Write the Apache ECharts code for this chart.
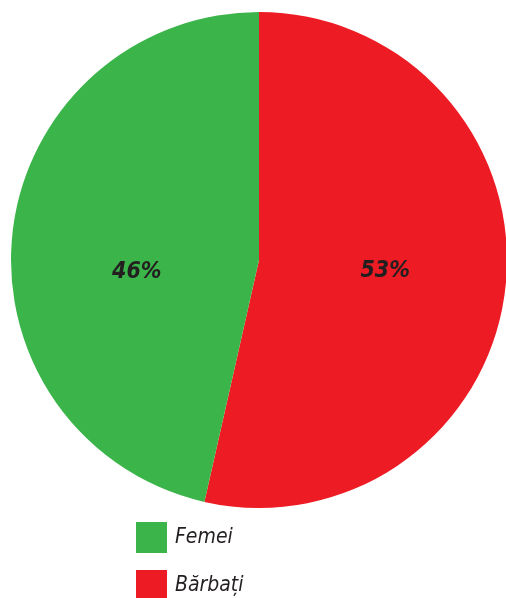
<!DOCTYPE html>
<html>
<head>
<meta charset="utf-8">
<style>
  html, body { margin: 0; padding: 0; background: #ffffff; }
  #chart { width: 506px; height: 598px; }
</style>
<script src="https://cdn.jsdelivr.net/npm/echarts@6/dist/echarts.min.js"></script>
</head>
<body>
<div id="chart"></div>
<script>
// Share of respondents by gender (percent)
const categories = ['Bărbați', 'Femei'];
const shares = [53, 46];
const colors = ['#ed1c24', '#3bb54a'];
const legendOrder = ['Femei', 'Bărbați'];

const textFont = '"DejaVu Sans Condensed", "Liberation Sans Narrow", "Open Sans", sans-serif';

// label nudges so both percentages sit on the same line
const labelOffsets = [[0, -3], [4, 26]];

const chart = echarts.init(document.getElementById('chart'), null, { renderer: 'canvas' });

const legendText = {
  fontFamily: textFont,
  fontStyle: 'italic',
  fontSize: 21,
  color: '#231f20',
  padding: [0, 0, 0, 3]
};

chart.setOption({
  backgroundColor: '#ffffff',
  animation: false,
  legend: legendOrder.map((name, i) => ({
    data: [name],
    orient: 'vertical',
    left: 131,
    top: 517 + i * 48,
    itemWidth: 31,
    itemHeight: 31,
    icon: 'rect',
    selectedMode: false,
    textStyle: legendText
  })),
  series: [{
    type: 'pie',
    center: [259, 260],
    radius: 248,
    startAngle: 90,
    clockwise: true,
    avoidLabelOverlap: false,
    itemStyle: { borderWidth: 0 },
    emphasis: { disabled: true },
    label: {
      show: true,
      position: 'inside',
      formatter: p => p.value + '%',
      fontFamily: textFont,
      fontStyle: 'italic',
      fontWeight: 'bold',
      fontSize: 23,
      color: '#231f20'
    },
    labelLine: { show: false },
    data: categories.map((name, i) => ({
      name: name,
      value: shares[i],
      itemStyle: { color: colors[i] },
      label: { offset: labelOffsets[i] }
    }))
  }]
});
</script>
</body>
</html>
